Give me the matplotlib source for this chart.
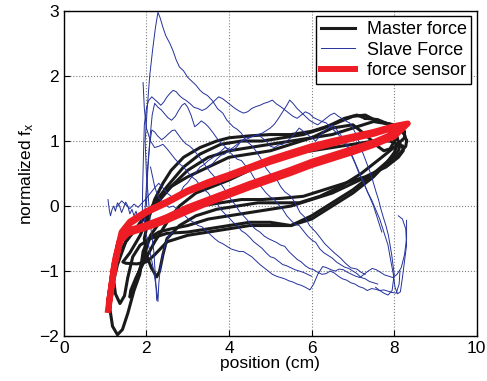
import matplotlib.pyplot as plt

plt.rcParams['font.family'] = ['Liberation Sans', 'DejaVu Sans']
plt.rcParams['mathtext.default'] = 'regular'

# master force loops (x in cm, normalized force)
master_x = [
    [8.3, 8.25, 8.1, 7.9, 7.5, 7.0, 6.5, 6.0, 5.5, 5.0, 4.5, 4.0, 3.5, 3.0, 2.6, 2.2, 1.8, 1.5, 1.3, 1.15, 1.12, 1.18, 1.3, 1.42, 1.55, 1.7, 1.84, 1.92, 2.05, 2.3, 2.6, 3.0, 3.5, 4.0, 4.5, 5.0, 5.5, 6.0, 6.5, 7.0, 7.5, 7.9, 8.15, 8.28, 8.3],
    [7.3, 7.1, 6.8, 6.3, 5.8, 5.3, 4.8, 4.3, 3.8, 3.3, 2.9, 2.5, 2.2, 1.8, 1.5, 1.3, 1.2, 1.25, 1.36, 1.47, 1.55, 1.67, 1.85, 2.1, 2.5, 3.0, 3.5, 4.0, 4.5, 5.0, 5.5, 6.0, 6.5, 7.0, 7.5, 7.8, 8.0, 8.1, 8.05, 7.9, 7.6, 7.3],
    [8.05, 7.9, 7.75, 7.6, 7.3, 7.0, 6.5, 6.0, 5.5, 5.0, 4.5, 4.0, 3.5, 3.0, 2.6, 2.3, 2.05, 1.85, 1.6, 1.43, 1.5, 1.77, 2.0, 2.2, 2.5, 3.0, 3.5, 4.0, 4.5, 5.0, 5.5, 6.0, 6.5, 7.0, 7.5, 7.9, 8.1, 8.15, 8.05],
    [7.6, 7.3, 7.0, 6.5, 6.0, 5.5, 5.0, 4.5, 4.0, 3.7, 3.3, 2.9, 2.6, 2.4, 2.2, 2.05, 1.95, 2.0, 2.12, 2.25, 2.32, 2.4, 2.5, 2.8, 3.2, 3.7, 4.2, 4.7, 5.2, 5.7, 6.2, 6.7, 7.2, 7.7, 8.05, 8.25, 8.25, 8.0, 7.6],
    [8.2, 7.9, 7.5, 7.0, 6.5, 6.0, 5.5, 5.0, 4.5, 4.0, 3.6, 3.2, 2.8, 2.5, 2.2, 1.95, 1.75, 1.62, 1.6, 1.68, 1.8, 1.95, 2.1, 2.4, 2.8, 3.3, 3.8, 4.3, 4.8, 5.3, 5.8, 6.3, 6.8, 7.3, 7.8, 8.1, 8.22, 8.2],
]
master_y = [
    [1.0, 1.1, 1.2, 1.26, 1.3, 1.2, 1.1, 1.05, 1.0, 0.95, 0.9, 0.85, 0.75, 0.55, 0.3, 0.0, -0.3, -0.55, -0.9, -1.3, -1.6, -1.85, -1.98, -1.9, -1.65, -1.3, -1.05, -0.7, -0.5, -0.4, -0.35, -0.3, -0.2, -0.15, -0.1, -0.05, 0.0, 0.1, 0.2, 0.35, 0.5, 0.68, 0.82, 0.92, 1.0],
    [1.35, 1.4, 1.35, 1.2, 1.1, 1.05, 1.0, 1.0, 0.95, 0.8, 0.6, 0.3, 0.05, -0.3, -0.55, -0.8, -1.1, -1.35, -1.5, -1.38, -1.1, -0.78, -0.6, -0.5, -0.42, -0.4, -0.35, -0.3, -0.25, -0.25, -0.3, -0.2, 0.0, 0.2, 0.45, 0.65, 0.82, 0.98, 1.12, 1.25, 1.33, 1.35],
    [1.05, 0.88, 0.85, 0.92, 1.1, 1.25, 1.2, 1.05, 0.95, 0.85, 0.8, 0.75, 0.6, 0.45, 0.3, 0.1, -0.15, -0.45, -0.72, -0.86, -0.88, -0.89, -0.86, -0.75, -0.55, -0.45, -0.4, -0.35, -0.3, -0.3, -0.3, -0.15, 0.05, 0.25, 0.5, 0.72, 0.85, 0.95, 1.05],
    [1.3, 1.4, 1.38, 1.25, 1.15, 1.1, 1.1, 1.08, 1.05, 1.0, 0.9, 0.75, 0.55, 0.35, 0.1, -0.2, -0.5, -0.75, -0.95, -1.09, -1.0, -0.75, -0.5, -0.3, -0.15, -0.05, 0.0, 0.05, 0.05, 0.05, 0.15, 0.3, 0.5, 0.75, 0.93, 1.05, 1.15, 1.25, 1.3],
    [0.92, 1.0, 1.0, 0.95, 0.9, 0.85, 0.8, 0.7, 0.55, 0.4, 0.3, 0.2, 0.0, -0.25, -0.55, -0.85, -1.1, -1.3, -1.4, -1.3, -1.05, -0.75, -0.45, -0.18, -0.06, 0.0, 0.05, 0.1, 0.1, 0.12, 0.15, 0.25, 0.35, 0.45, 0.6, 0.75, 0.85, 0.92],
]

# slave force traces
slave_x = [
    [2.25, 2.22, 2.18, 2.1, 2.05, 2.0, 1.97, 2.02, 2.08, 2.15, 2.22, 2.28, 2.33, 2.4, 2.47, 2.57, 2.65, 2.72, 2.8, 2.9, 3.0, 3.1, 3.2, 3.3, 3.37, 3.48, 3.6, 3.72, 3.85, 3.95, 4.1, 4.2, 4.3, 4.42, 4.55, 4.65, 4.78, 4.9, 5.0, 5.12, 5.25, 5.35, 5.5, 5.6, 5.72, 5.85, 5.95, 6.1, 6.2, 6.32, 6.45, 6.55, 6.7, 6.82, 6.95, 7.1, 7.2, 7.3],
    [1.9, 1.91, 1.93, 1.95, 2.0, 2.05, 2.13, 2.2, 2.27, 2.35, 2.42, 2.5, 2.58, 2.65, 2.72, 2.8, 2.87, 2.95, 3.05, 3.15, 3.25, 3.35, 3.45, 3.55, 3.65, 3.75, 3.85, 3.95, 4.05, 4.15, 4.25, 4.35, 4.45, 4.55, 4.65, 4.75, 4.85, 4.95, 5.05, 5.15, 5.25, 5.35, 5.45, 5.55, 5.65, 5.75, 5.85, 5.95, 6.05, 6.15, 6.25, 6.35, 6.45, 6.55, 6.65, 6.75, 6.85, 6.95, 7.05, 7.15, 7.25, 7.35, 7.45, 7.55, 7.65, 7.75, 7.85, 7.92, 7.98, 8.02, 8.08, 8.15, 8.2, 8.25, 8.3, 8.28, 8.2, 8.1],
    [2.0, 2.03, 2.08, 2.14, 2.2, 2.28, 2.36, 2.44, 2.52, 2.61, 2.7, 2.78, 2.86, 2.93, 3.0, 3.08, 3.17, 3.25, 3.33, 3.42, 3.5, 3.6, 3.7, 3.8, 3.9, 4.0, 4.1, 4.2, 4.3, 4.4, 4.5, 4.6, 4.7, 4.8, 4.9, 5.0, 5.1, 5.2, 5.3, 5.4, 5.5, 5.6, 5.7, 5.8, 5.9, 6.0, 6.1, 6.2, 6.3, 6.4, 6.5, 6.6, 6.7, 6.8, 6.9, 7.0, 7.1, 7.2, 7.3, 7.4, 7.5, 7.6],
    [1.95, 1.98, 2.03, 2.08, 2.13, 2.2, 2.27, 2.37, 2.45, 2.55, 2.62, 2.69, 2.77, 2.85, 2.95, 3.05, 3.15, 3.25, 3.35, 3.45, 3.55, 3.65, 3.75, 3.85, 3.95, 4.05, 4.15, 4.25, 4.35, 4.45, 4.55, 4.65, 4.75, 4.85, 4.95, 5.05, 5.15, 5.25, 5.35, 5.45, 5.55, 5.65, 5.75, 5.85, 5.95, 6.05, 6.15, 6.25, 6.35, 6.45, 6.55, 6.65, 6.75, 6.85, 6.95, 7.05, 7.15, 7.25, 7.35, 7.45, 7.55, 7.65, 7.75, 7.85, 7.95, 8.05, 8.12, 8.14],
    [2.1, 2.15, 2.2, 2.28, 2.36, 2.45, 2.55, 2.65, 2.75, 2.85, 2.95, 3.05, 3.15, 3.25, 3.35, 3.45, 3.55, 3.65, 3.75, 3.85, 3.95, 4.05, 4.15, 4.25, 4.35, 4.45, 4.55, 4.65, 4.75, 4.85, 4.95, 5.05, 5.15, 5.25, 5.35, 5.45, 5.55, 5.65, 5.75, 5.85, 5.96, 6.05, 6.15, 6.27, 6.37, 6.47, 6.57, 6.67, 6.77, 6.87, 6.97, 7.07, 7.17, 7.27, 7.37, 7.47, 7.57, 7.67, 7.77, 7.87, 7.97, 8.07, 8.17, 8.25, 8.3, 8.3],
    [3.5, 3.6, 3.7, 3.8, 3.9, 4.0, 4.1, 4.2, 4.3, 4.4, 4.5, 4.6, 4.7, 4.8, 4.9, 5.0, 5.1, 5.2, 5.3, 5.4, 5.47, 5.55, 5.65, 5.75, 5.85, 5.95, 6.05, 6.15, 6.25, 6.35, 6.45, 6.55, 6.65, 6.75, 6.85, 6.92, 7.0, 7.08, 7.15, 7.22, 7.3, 7.37, 7.44, 7.5, 7.56, 7.62, 7.68, 7.74, 7.8, 7.86, 7.9, 7.94, 7.97, 8.0, 7.95, 7.85, 7.75, 7.65, 7.55],
    [1.07, 1.1, 1.13, 1.17, 1.21, 1.25, 1.3, 1.35, 1.4, 1.45, 1.5, 1.55, 1.6, 1.65, 1.7, 1.75, 1.8, 1.85, 1.9, 1.95, 2.0, 2.05, 2.1, 2.15, 2.2, 2.25, 2.28, 2.3, 2.33, 2.38, 2.45, 2.55, 2.65],
    [1.3, 1.4, 1.5, 1.6, 1.7, 1.8, 1.9, 2.0, 2.1, 2.2, 2.3, 2.4, 2.5, 2.6, 2.7, 2.8, 2.9, 3.0, 3.1, 3.2, 3.3, 3.4, 3.5, 3.6, 3.7, 3.8, 3.9, 4.0, 4.1, 4.2, 4.3, 4.4, 4.5, 4.6, 4.7, 4.8, 4.9, 5.0, 5.1, 5.2, 5.3, 5.4, 5.5, 5.6, 5.7, 5.8, 5.9, 6.0, 6.1, 6.2, 6.3, 6.4, 6.5, 6.6, 6.7, 6.8, 6.9, 7.0, 7.1, 7.2, 7.3, 7.4, 7.5, 7.6, 7.7],
    [1.92, 1.95, 2.0, 2.1, 2.2, 2.3, 2.4, 2.5, 2.6, 2.7, 2.8, 2.9, 3.0, 3.1, 3.2, 3.3, 3.4, 3.5, 3.6, 3.7, 3.8, 3.9, 4.0, 4.1, 4.2, 4.3, 4.4, 4.5, 4.6, 4.7, 4.8, 4.9, 5.0, 5.1, 5.2, 5.3, 5.4, 5.5, 5.6, 5.7, 5.8, 5.9, 6.0],
]
slave_y = [
    [-1.45, -1.1, -0.7, -0.3, 0.1, 0.5, 1.0, 1.5, 2.0, 2.4, 2.75, 2.98, 2.9, 2.75, 2.62, 2.5, 2.38, 2.25, 2.14, 2.08, 1.98, 1.92, 1.86, 1.78, 1.74, 1.7, 1.62, 1.5, 1.43, 1.32, 1.22, 1.18, 1.12, 1.0, 0.93, 0.85, 0.72, 0.58, 0.5, 0.45, 0.3, 0.22, 0.15, 0.05, -0.1, -0.18, -0.3, -0.4, -0.48, -0.58, -0.66, -0.72, -0.8, -0.88, -0.95, -0.97, -1.02, -1.05],
    [-0.2, 0.3, 0.8, 1.25, 1.5, 1.62, 1.68, 1.64, 1.6, 1.55, 1.6, 1.68, 1.74, 1.78, 1.76, 1.7, 1.66, 1.63, 1.58, 1.52, 1.5, 1.47, 1.5, 1.56, 1.62, 1.68, 1.65, 1.6, 1.55, 1.5, 1.46, 1.43, 1.45, 1.5, 1.53, 1.55, 1.58, 1.6, 1.63, 1.57, 1.53, 1.48, 1.43, 1.38, 1.35, 1.4, 1.45, 1.42, 1.36, 1.33, 1.3, 1.28, 1.22, 1.16, 1.1, 1.02, 0.92, 0.8, 0.66, 0.5, 0.38, 0.22, 0.1, -0.05, -0.2, -0.4, -0.6, -0.85, -1.05, -1.25, -1.35, -1.32, -1.1, -0.85, -0.6, -0.35, -0.2, -0.15],
    [0.0, 0.5, 1.0, 1.4, 1.58, 1.52, 1.48, 1.42, 1.36, 1.32, 1.38, 1.47, 1.55, 1.58, 1.52, 1.4, 1.22, 1.26, 1.31, 1.27, 1.22, 1.14, 1.05, 0.97, 0.92, 0.84, 0.78, 0.72, 0.7, 0.62, 0.55, 0.44, 0.36, 0.28, 0.2, 0.14, 0.1, 0.02, -0.05, -0.15, -0.22, -0.28, -0.3, -0.38, -0.46, -0.52, -0.56, -0.66, -0.72, -0.76, -0.8, -0.86, -0.9, -0.94, -0.96, -1.0, -1.04, -1.1, -1.12, -1.16, -1.18, -1.2],
    [-0.3, 0.1, 0.6, 0.95, 1.17, 1.14, 1.08, 1.02, 1.06, 1.12, 1.16, 1.17, 1.1, 1.03, 0.96, 0.92, 0.86, 0.78, 0.7, 0.6, 0.52, 0.45, 0.38, 0.3, 0.2, 0.1, 0.02, -0.08, -0.15, -0.22, -0.3, -0.36, -0.4, -0.46, -0.5, -0.53, -0.56, -0.6, -0.62, -0.7, -0.76, -0.82, -0.86, -0.92, -0.96, -0.98, -1.02, -1.05, -1.04, -1.0, -1.03, -1.08, -1.12, -1.14, -1.18, -1.2, -1.24, -1.26, -1.3, -1.27, -1.28, -1.3, -1.29, -1.31, -1.33, -1.34, -1.2, -1.0],
    [0.6, 0.45, 0.3, 0.15, 0.08, 0.02, -0.02, 0.0, -0.05, -0.1, -0.16, -0.22, -0.25, -0.3, -0.32, -0.38, -0.44, -0.5, -0.55, -0.58, -0.62, -0.66, -0.68, -0.7, -0.7, -0.74, -0.78, -0.84, -0.9, -0.95, -1.0, -1.05, -1.08, -1.1, -1.12, -1.15, -1.17, -1.2, -1.22, -1.25, -1.29, -1.2, -1.05, -0.93, -0.95, -0.98, -1.0, -0.97, -0.98, -1.02, -1.05, -1.08, -1.1, -1.05, -1.0, -0.96, -0.98, -1.02, -1.06, -1.08, -1.1, -1.05, -0.95, -0.75, -0.5, -0.22],
    [0.6, 0.65, 0.72, 0.78, 0.8, 0.86, 0.9, 0.95, 1.0, 1.05, 1.06, 1.08, 1.1, 1.12, 1.16, 1.2, 1.26, 1.35, 1.45, 1.55, 1.63, 1.58, 1.5, 1.44, 1.38, 1.32, 1.28, 1.25, 1.3, 1.35, 1.4, 1.43, 1.38, 1.34, 1.3, 1.28, 1.2, 1.1, 0.98, 0.85, 0.72, 0.6, 0.48, 0.35, 0.22, 0.1, -0.05, -0.18, -0.3, -0.45, -0.6, -0.75, -0.9, -1.05, -1.3, -1.37, -1.34, -1.3, -1.25],
    [0.1, -0.05, -0.15, -0.05, 0.0, -0.08, 0.05, 0.0, -0.1, -0.02, 0.06, 0.0, -0.12, -0.05, -0.15, -0.08, -0.2, -0.12, -0.25, -0.35, -0.45, -0.6, -0.75, -0.9, -1.1, -1.3, -1.47, -1.2, -1.0, -0.8, -0.6, -0.45, -0.4],
    [0.0, 0.08, 0.02, -0.04, 0.03, -0.02, 0.05, 0.12, 0.2, 0.28, 0.35, 0.28, 0.2, 0.15, 0.1, 0.18, 0.3, 0.36, 0.45, 0.52, 0.6, 0.64, 0.7, 0.74, 0.8, 0.84, 0.9, 0.88, 0.85, 0.92, 1.0, 1.02, 1.05, 1.08, 1.1, 1.05, 1.0, 0.92, 0.9, 0.94, 0.95, 1.0, 1.05, 1.12, 1.2, 1.15, 1.1, 1.05, 1.0, 1.08, 1.15, 1.2, 1.25, 1.18, 1.1, 1.0, 0.9, 0.75, 0.6, 0.45, 0.3, 0.15, 0.0, -0.2, -0.4],
    [1.9, 1.5, 1.2, 1.0, 0.9, 0.92, 0.95, 0.88, 0.8, 0.72, 0.65, 0.6, 0.52, 0.45, 0.4, 0.32, 0.25, 0.2, 0.1, 0.05, -0.05, -0.12, -0.18, -0.25, -0.3, -0.38, -0.42, -0.48, -0.55, -0.6, -0.65, -0.72, -0.78, -0.8, -0.85, -0.9, -0.92, -0.95, -0.98, -1.0, -1.02, -1.05, -1.08],
]

# force sensor loops
sensor_x = [
    [1.07, 1.2, 1.35, 1.55, 2.0, 2.5, 3.0, 3.5, 4.0, 4.5, 5.0, 5.5, 6.0, 6.5, 7.0, 7.5, 8.0, 8.33, 8.0, 7.5, 7.0, 6.5, 6.0, 5.5, 5.0, 4.5, 4.0, 3.5, 3.0, 2.5, 2.0, 1.6, 1.4, 1.25, 1.1],
    [1.1, 1.22, 1.38, 1.6, 2.0, 2.5, 3.0, 3.5, 4.0, 4.5, 5.0, 5.5, 6.0, 6.5, 7.0, 7.5, 7.9, 8.1, 7.8, 7.5, 7.0, 6.5, 6.0, 5.5, 5.0, 4.5, 4.0, 3.5, 3.0, 2.5, 2.0, 1.6, 1.4, 1.25, 1.12],
]
sensor_y = [
    [-1.6, -1.0, -0.55, -0.42, -0.33, -0.22, -0.08, 0.05, 0.17, 0.29, 0.4, 0.51, 0.63, 0.73, 0.83, 0.94, 1.07, 1.27, 1.23, 1.14, 1.07, 1.0, 0.92, 0.82, 0.72, 0.6, 0.48, 0.37, 0.24, 0.07, -0.08, -0.24, -0.4, -0.8, -1.45],
    [-1.5, -0.9, -0.5, -0.37, -0.29, -0.17, -0.02, 0.1, 0.22, 0.34, 0.45, 0.56, 0.68, 0.78, 0.88, 0.98, 1.09, 1.2, 1.17, 1.11, 1.04, 0.96, 0.88, 0.78, 0.68, 0.57, 0.45, 0.34, 0.22, 0.05, -0.1, -0.27, -0.45, -0.85, -1.4],
]

fig = plt.figure(figsize=(4.87, 3.81), dpi=100)
ax = fig.add_axes([0.131, 0.118, 0.848, 0.853])

for i in range(len(master_x)):
    ax.plot(master_x[i], master_y[i], color='#1a1a1a', lw=2.2,
            label='Master force' if i == 0 else None, zorder=2)
for i in range(len(slave_x)):
    ax.plot(slave_x[i], slave_y[i], color='#23319b', lw=0.7,
            label='Slave Force' if i == 0 else None, zorder=3)
for i in range(len(sensor_x)):
    ax.plot(sensor_x[i], sensor_y[i], color='#ee1c25', lw=4.3,
            label='force sensor' if i == 0 else None, zorder=4,
            solid_joinstyle='round')

ax.set_xlim(0, 10)
ax.set_ylim(-2, 3)
ax.set_xticks([0, 2, 4, 6, 8, 10])
ax.set_yticks([-2, -1, 0, 1, 2, 3])
ax.grid(True, linestyle=':', color='#808080', lw=0.8)
ax.tick_params(direction='in', labelsize=12.5, length=4)
for s in ax.spines.values():
    s.set_linewidth(1.0)
ax.set_xlabel('position (cm)', fontsize=12.5, labelpad=0)
ax.set_ylabel('normalized f$_x$', fontsize=12.5, labelpad=2)

leg = ax.legend(loc='upper right', fontsize=13, fancybox=False, framealpha=1,
                edgecolor='black', handlelength=1.9, handletextpad=0.65,
                borderpad=0.25, labelspacing=0.2, borderaxespad=0.3)
leg.get_frame().set_linewidth(1.0)

fig.savefig('out.png', dpi=100)
